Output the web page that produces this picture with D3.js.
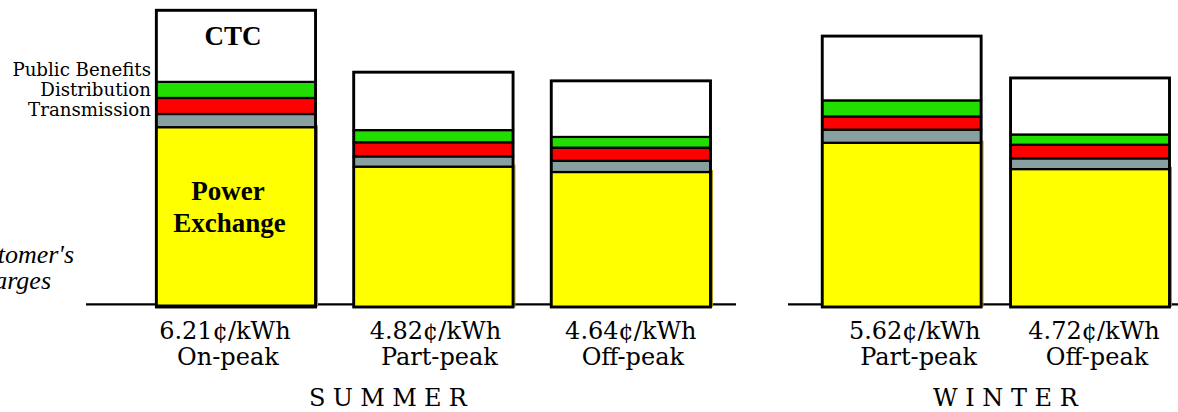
<!DOCTYPE html>
<html><head><meta charset="utf-8">
<script src="https://cdn.jsdelivr.net/npm/d3@7"></script>
<style>body{margin:0;background:#fff;} svg{display:block}</style>
</head><body>
<svg id="c" width="1178" height="412"></svg>
<script>
// ---------- data ----------
const summerCats = ["On-peak", "Part-peak", "Off-peak"];
const summerPrices = ["6.21¢/kWh", "4.82¢/kWh", "4.64¢/kWh"];
const winterCats = ["Part-peak", "Off-peak"];
const winterPrices = ["5.62¢/kWh", "4.72¢/kWh"];
const seasonLabels = ["SUMMER", "WINTER"];
const seriesNames = ["Power Exchange", "Transmission", "Distribution", "Public Benefits", "CTC"];
// components, cents/kWh (bottom to top)
const summerPowerExchange  = [3.69, 2.88, 2.77];
const summerTransmission   = [0.27, 0.21, 0.23];
const summerDistribution   = [0.33, 0.29, 0.27];
const summerPublicBenefits = [0.33, 0.25, 0.22];
const summerCTC            = [1.47, 1.19, 1.15];
const winterPowerExchange  = [3.37, 2.83];
const winterTransmission   = [0.27, 0.22];
const winterDistribution   = [0.27, 0.28];
const winterPublicBenefits = [0.33, 0.21];
const winterCTC            = [1.32, 1.16];
const sideLabels = ["Public Benefits", "Distribution", "Transmission"];
const yAxisLabel = ["Customer's", "Charges"];

// ---------- layout ----------
const colors = ["#ffff00", "#88a0a0", "#ff0000", "#22dd00", "#ffffff"];
const svg = d3.select("#c");
const y = d3.scaleLinear().domain([0, 6.3]).range([307, 0]);
const xS = d3.scaleBand().domain(summerCats).range([156.3, 710.5]).paddingInner(0.1933).paddingOuter(0);
const xW = d3.scaleBand().domain(winterCats).range([822.2, 1169.5]).paddingInner(0.1566).paddingOuter(0);
const priceNudge = {S: [-11, 2, 0], W: [13, 4]};
const nameNudge = {S: [-8, 6, 2], W: [17, 7]};

const serif = "DejaVu Serif";

// baselines
svg.append("line").attr("x1", 86).attr("x2", 736).attr("y1", 304.3).attr("y2", 304.3)
  .attr("stroke", "#000").attr("stroke-width", 2.2);
svg.append("line").attr("x1", 788).attr("x2", 1178).attr("y1", 304.3).attr("y2", 304.3)
  .attr("stroke", "#000").attr("stroke-width", 2.2);

function drawSeason(cats, x, seriesArrs, prices, key) {
  const rows = cats.map((c, i) => {
    const o = {cat: c};
    seriesNames.forEach((s, k) => o[s] = seriesArrs[k][i]);
    return o;
  });
  const stack = d3.stack().keys(seriesNames)(rows);
  const bw = x.bandwidth();
  const g = svg.append("g");
  stack.forEach((layer, k) => {
    g.selectAll(null).data(layer).enter().append("rect")
      .attr("x", d => x(d.data.cat))
      .attr("width", bw)
      .attr("y", d => y(d[1]))
      .attr("height", d => y(d[0]) - y(d[1]))
      .attr("fill", colors[k])
      .attr("stroke", "#000").attr("stroke-width", 2.2);
  });
  // olive edge on yellow part
  g.selectAll(null).data(stack[0]).enter().append("line")
    .attr("x1", d => x(d.data.cat) + bw + 1.8).attr("x2", d => x(d.data.cat) + bw + 1.8)
    .attr("y1", d => y(d[1]) - 2).attr("y2", d => y(d[0]))
    .attr("stroke", "#b09000").attr("stroke-width", 1.2);
  // outer outline
  g.selectAll(null).data(stack[stack.length - 1]).enter().append("rect")
    .attr("x", d => x(d.data.cat)).attr("width", bw)
    .attr("y", d => y(d[1])).attr("height", d => y(0) - y(d[1]))
    .attr("fill", "none").attr("stroke", "#000").attr("stroke-width", 2.8);
  // category labels
  cats.forEach((c, i) => {
    const cx = x(c) + bw / 2;
    svg.append("text").attr("x", cx + priceNudge[key][i]).attr("y", 339)
      .attr("text-anchor", "middle").attr("font-family", serif).attr("font-size", 24)
      .attr("fill", "#000").text(prices[i]);
    svg.append("text").attr("x", cx + nameNudge[key][i]).attr("y", 365)
      .attr("text-anchor", "middle").attr("font-family", serif).attr("font-size", 24)
      .attr("fill", "#000").text(c);
  });
}

drawSeason(summerCats, xS,
  [summerPowerExchange, summerTransmission, summerDistribution, summerPublicBenefits, summerCTC],
  summerPrices, "S");
drawSeason(winterCats, xW,
  [winterPowerExchange, winterTransmission, winterDistribution, winterPublicBenefits, winterCTC],
  winterPrices, "W");

// baseline visible through first bar
svg.append("line").attr("x1", xS(summerCats[0])).attr("x2", xS(summerCats[0]) + xS.bandwidth())
  .attr("y1", 305.3).attr("y2", 305.3).attr("stroke", "#000").attr("stroke-width", 1.6);

// season labels
svg.append("text").attr("x", 309).attr("y", 406).attr("font-family", serif).attr("font-size", 24)
  .attr("letter-spacing", "7.3px").attr("fill", "#000").text(seasonLabels[0]);
svg.append("text").attr("x", 933).attr("y", 406).attr("font-family", serif).attr("font-size", 24)
  .attr("letter-spacing", "7.6px").attr("fill", "#000").text(seasonLabels[1]);

// side labels
[75.7, 95.7, 116].forEach((yy, i) => {
  svg.append("text").attr("x", 151).attr("y", yy).attr("text-anchor", "end")
    .attr("font-family", serif).attr("font-size", 18.2).attr("fill", "#000").text(sideLabels[i]);
});

// in-bar labels
const bold = "Liberation Serif";
svg.append("text").attr("x", 233).attr("y", 45).attr("text-anchor", "middle")
  .attr("font-family", bold).attr("font-weight", "bold").attr("font-size", 27).text(seriesNames[4]);
svg.append("text").attr("x", 228).attr("y", 200).attr("text-anchor", "middle")
  .attr("font-family", bold).attr("font-weight", "bold").attr("font-size", 27).text("Power");
svg.append("text").attr("x", 229.5).attr("y", 231.7).attr("text-anchor", "middle")
  .attr("font-family", bold).attr("font-weight", "bold").attr("font-size", 27).text("Exchange");

// y label (cut off at left edge, as in the original)
svg.append("text").attr("x", 74).attr("y", 263).attr("text-anchor", "end")
  .attr("font-family", "Liberation Serif").attr("font-style", "italic").attr("font-size", 26).attr("fill", "#000").text(yAxisLabel[0]);
svg.append("text").attr("x", 51).attr("y", 289).attr("text-anchor", "end")
  .attr("font-family", "Liberation Serif").attr("font-style", "italic").attr("font-size", 26).attr("fill", "#000").text(yAxisLabel[1]);
</script>
</body></html>
